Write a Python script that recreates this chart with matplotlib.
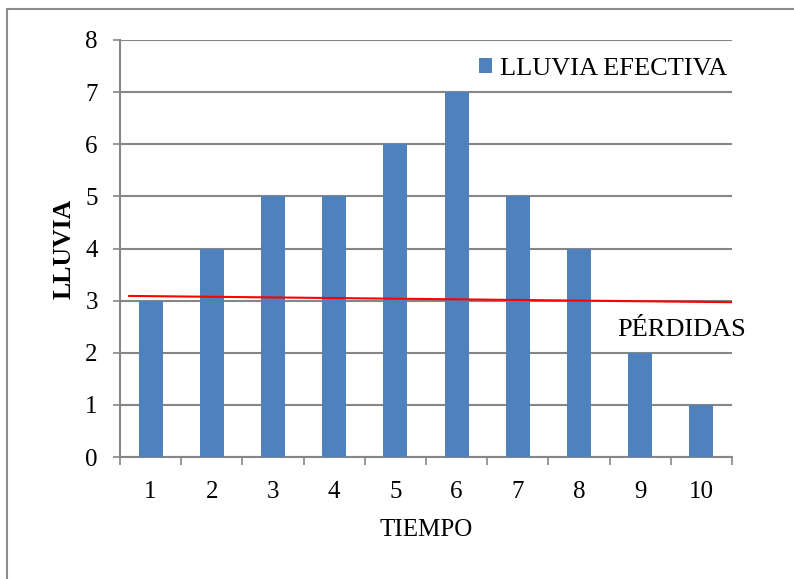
import numpy as np
import matplotlib
matplotlib.use("Agg")
from matplotlib import pyplot as plt
from matplotlib.patches import Rectangle

# datos del grafico
tiempo = [1, 2, 3, 4, 5, 6, 7, 8, 9, 10]
lluvia_efectiva = [3, 4, 5, 5, 6, 7, 5, 4, 2, 1]
perdidas_x = [0.65, 10.5]
perdidas_y = [3.09, 2.97]

plt.rcParams['font.family'] = ['Liberation Serif', 'DejaVu Serif']

fig = plt.figure(figsize=(7.94, 5.79), dpi=100)
# marco exterior
fig.patches.append(Rectangle((7 / 794, -0.1), 1.2, 1 - 9 / 579 + 0.1, transform=fig.transFigure,
                             fill=False, edgecolor="#8c8c8c", linewidth=1.5))

ax = fig.add_axes([120 / 794, 1 - 457 / 579, 612 / 794, 417 / 579])

ax.bar(tiempo, lluvia_efectiva, width=0.39, color="#4f81bd", label="LLUVIA EFECTIVA", zorder=3)
ax.plot(perdidas_x, perdidas_y, color="red", linewidth=1.5, zorder=4)
ax.text(9.68, 2.44, "PÉRDIDAS", fontsize=19, ha="center", va="center", zorder=5)

ax.set_xlim(0.5, 10.5)
ax.set_ylim(0, 8)
ax.set_yticks(range(0, 9))
ax.set_xticks(tiempo)
ax.set_xticks(np.arange(0.5, 11, 1), minor=True)
ax.tick_params(axis="x", which="major", length=0, labelsize=18, pad=17)
ax.tick_params(axis="x", which="minor", length=5.5, width=1.2, color="#868686", direction="out")
ax.tick_params(axis="y", length=5, width=1.2, color="#868686", labelsize=18, pad=11)

ax.yaxis.grid(True, color="#868686", linewidth=1.5, zorder=0)
for s in ["top", "right"]:
    ax.spines[s].set_visible(False)
for s in ["left", "bottom"]:
    ax.spines[s].set_color("#868686")
    ax.spines[s].set_linewidth(1.5)

ax.set_xlabel("TIEMPO", fontsize=18, labelpad=12)
ax.set_ylabel("LLUVIA", fontsize=18.5, fontweight="bold", labelpad=7)

ax.legend(loc="center right", bbox_to_anchor=(0.992, 0.93), frameon=False, fontsize=19,
          handlelength=0.5, handleheight=0.5, handletextpad=0.3, borderaxespad=0, borderpad=0)

fig.savefig("out.png", dpi=100)
